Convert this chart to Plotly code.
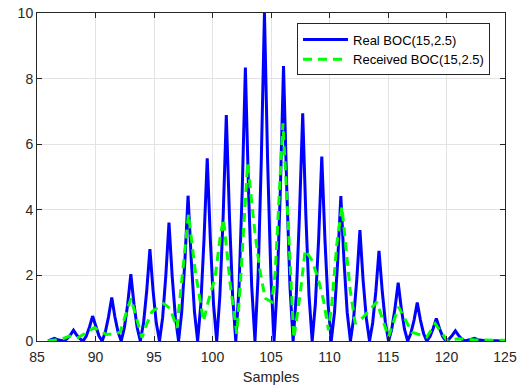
import plotly.graph_objects as go

# ---- data ----
real_x = [85.95, 86.22, 86.49, 86.76, 87.03, 87.31, 87.58, 87.85, 88.12, 88.39,
          88.67, 88.94, 89.21, 89.48, 89.75, 90.03, 90.30, 90.57, 90.84, 91.11,
          91.39, 91.66, 91.93, 92.20, 92.47, 92.75, 93.02, 93.29, 93.56, 93.83,
          94.11, 94.38, 94.65, 94.92, 95.19, 95.47, 95.74, 96.01, 96.28, 96.55,
          96.83, 97.10, 97.37, 97.64, 97.91, 98.19, 98.46, 98.73, 99.00, 99.27,
          99.55, 99.82, 100.09, 100.36, 100.63, 100.91, 101.18, 101.45, 101.72, 101.99,
          102.27, 102.54, 102.81, 103.08, 103.35, 103.63, 103.90, 104.17, 104.44, 104.71,
          104.99, 105.26, 105.53, 105.80, 106.07, 106.35, 106.62, 106.89, 107.16, 107.43,
          107.71, 107.98, 108.25, 108.52, 108.79, 109.07, 109.34, 109.61, 109.88, 110.15,
          110.43, 110.70, 110.97, 111.24, 111.51, 111.79, 112.06, 112.33, 112.60, 112.87,
          113.15, 113.42, 113.69, 113.96, 114.23, 114.51, 114.78, 115.05, 115.32, 115.59,
          115.87, 116.14, 116.41, 116.68, 116.95, 117.23, 117.50, 117.77, 118.04, 118.31,
          118.59, 118.86, 119.13, 119.40, 119.67, 119.95, 120.22, 120.49, 120.76, 121.03,
          121.31, 121.58, 121.85, 122.12, 122.39, 122.67, 122.94, 123.21, 123.48, 123.75,
          124.03, 124.30, 124.57, 124.84, 125.00]
real_y = [0.00, 0.04, 0.08, 0.04, 0.02, 0.00, 0.07, 0.18, 0.33, 0.18,
          0.07, 0.00, 0.15, 0.42, 0.76, 0.42, 0.15, 0.00, 0.27, 0.73,
          1.33, 0.73, 0.27, 0.00, 0.41, 1.12, 2.04, 1.12, 0.41, 0.00,
          0.56, 1.54, 2.80, 1.54, 0.56, 0.00, 0.72, 1.99, 3.61, 1.99,
          0.72, 0.00, 0.89, 2.44, 4.43, 2.44, 0.89, 0.00, 1.11, 3.06,
          5.57, 3.06, 1.11, 0.00, 1.38, 3.79, 6.89, 3.79, 1.38, 0.00,
          1.67, 4.59, 8.34, 4.59, 1.67, 0.00, 2.00, 5.50, 10.00, 5.50,
          2.00, 0.00, 1.68, 4.61, 8.38, 4.61, 1.68, 0.00, 1.39, 3.82,
          6.94, 3.82, 1.39, 0.00, 1.12, 3.09, 5.62, 3.09, 1.12, 0.00,
          0.88, 2.43, 4.42, 2.43, 0.88, 0.00, 0.68, 1.86, 3.38, 1.86,
          0.68, 0.00, 0.55, 1.51, 2.75, 1.51, 0.55, 0.00, 0.36, 0.98,
          1.78, 0.98, 0.36, 0.00, 0.23, 0.64, 1.17, 0.64, 0.23, 0.00,
          0.14, 0.38, 0.69, 0.38, 0.14, 0.00, 0.06, 0.17, 0.31, 0.17,
          0.06, 0.00, 0.02, 0.04, 0.08, 0.04, 0.02, 0.00, 0.00, 0.01,
          0.02, 0.01, 0.00, 0.00, 0.00]

recv_x = [85.93, 87.20, 87.78, 88.50, 89.91, 90.91, 91.77, 92.11, 93.03, 93.97,
          94.39, 94.82, 95.81, 96.38, 96.96, 97.95, 98.50, 99.23, 99.66, 100.23,
          100.66, 100.94, 101.51, 102.08, 102.37, 103.00, 103.65, 104.08, 104.50, 105.07,
          105.36, 105.64, 106.02, 106.36, 106.64, 106.95, 107.50, 107.92, 108.50, 109.06,
          109.49, 109.91, 110.20, 110.63, 111.06, 111.34, 111.77, 112.20, 112.90, 114.05,
          115.04, 115.90, 117.04, 118.32, 119.03, 120.03, 121.00, 122.50, 125.00]
recv_y = [0.00, 0.07, 0.15, 0.10, 0.41, 0.20, 0.22, 0.28, 1.30, 0.10,
          0.53, 0.89, 1.14, 0.99, 0.40, 3.87, 2.20, 0.60, 1.24, 1.95,
          3.18, 3.72, 1.75, 0.22, 1.70, 5.42, 3.23, 2.10, 1.30, 1.19,
          2.10, 4.14, 6.64, 4.35, 2.31, 0.08, 1.45, 2.77, 2.46, 1.86,
          1.24, 0.33, 1.14, 2.97, 4.09, 3.08, 1.55, 0.53, 0.73, 1.19,
          0.12, 1.04, 0.27, 0.12, 0.53, 0.02, 0.07, 0.03, 0.02]

names = ["Real BOC(15,2.5)", "Received BOC(15,2.5)"]
x_ticks = [85, 90, 95, 100, 105, 110, 115, 120, 125]
y_ticks = [0, 2, 4, 6, 8, 10]

AX = "#262626"
FONT = "Liberation Sans, Arial, Helvetica, sans-serif"

fig = go.Figure()
fig.add_trace(go.Scatter(x=real_x, y=real_y, mode="lines", name=names[0],
                         line=dict(color="#0000ff", width=3)))
fig.add_trace(go.Scatter(x=recv_x, y=recv_y, mode="lines", name=names[1],
                         line=dict(color="#00ff00", width=3, dash="9px,6px")))

axis_common = dict(showline=True, linecolor=AX, linewidth=1, mirror="ticks",
                   ticks="inside", ticklen=5, tickwidth=1, tickcolor=AX,
                   showgrid=True, gridcolor="#e3e3e3", gridwidth=1,
                   zeroline=False, automargin=False,
                   tickfont=dict(family=FONT, size=14, color=AX))

fig.update_xaxes(range=[85, 125], tickvals=x_ticks,
                 ticktext=[str(v) for v in x_ticks], ticklabelstandoff=3,
                 title=dict(text="Samples", font=dict(family=FONT, size=14.5, color=AX),
                            standoff=8),
                 **axis_common)
fig.update_yaxes(range=[0, 10], tickvals=y_ticks,
                 ticktext=[str(v) for v in y_ticks], **axis_common)

fig.update_layout(
    width=531, height=390,
    margin=dict(l=37, r=26, t=13, b=49),
    paper_bgcolor="white", plot_bgcolor="white",
    font=dict(family=FONT, color=AX),
    showlegend=True,
    legend=dict(x=0.968, y=0.968, xanchor="right", yanchor="top",
                bgcolor="white", bordercolor=AX, borderwidth=1,
                font=dict(family=FONT, size=13, color="#000000"),
                itemwidth=45, tracegroupgap=0),
)

fig.write_html("out.html")
